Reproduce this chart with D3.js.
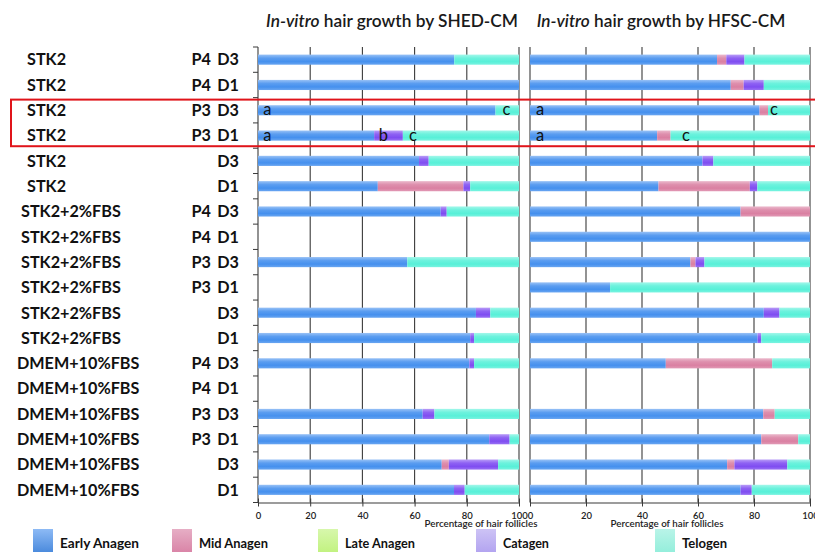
<!DOCTYPE html>
<html>
<head>
<meta charset="utf-8">
<script src="https://cdn.jsdelivr.net/npm/d3@7"></script>
<style>
  html, body { margin: 0; padding: 0; background: #fff; }
  svg { display: block; font-family: Lato, "Open Sans", sans-serif; }
</style>
</head>
<body>
<svg id="chart" width="815" height="552"></svg>
<script>
// ---------------- DATA ----------------
const rowGroups   = ["STK2","STK2","STK2","STK2","STK2","STK2",
                     "STK2+2%FBS","STK2+2%FBS","STK2+2%FBS","STK2+2%FBS","STK2+2%FBS","STK2+2%FBS",
                     "DMEM+10%FBS","DMEM+10%FBS","DMEM+10%FBS","DMEM+10%FBS","DMEM+10%FBS","DMEM+10%FBS"];
const rowPassages = ["P4","P4","P3","P3","","","P4","P4","P3","P3","","","P4","P4","P3","P3","",""];
const rowDays     = ["D3","D1","D3","D1","D3","D1","D3","D1","D3","D1","D3","D1","D3","D1","D3","D1","D3","D1"];

const phases = ["Early Anagen","Mid Anagen","Late Anagen","Catagen","Telogen"];

const panelTitles = ["hair growth by SHED-CM","hair growth by HFSC-CM"];
const titleItalic = "In-vitro";
const xTickValues = [0,20,40,60,80,100];
const xAxisTitle = "Percentage of hair follicles";

// SHED-CM (left panel), percentages per row
const shedEarly   = [75.2,100,91.0,44.5,61.7,45.9,70.0,0,57.2,0,83.5,81.3,81.0,0,63.1,88.6,70.4,75.1];
const shedMid     = [0,0,0,0,0,32.8,0,0,0,0,0,0,0,0,0,0,2.7,0];
const shedLate    = [0,0,0,0,0,0,0,0,0,0,0,0,0,0,0,0,0,0];
const shedCatagen = [0,0,0,11.0,3.7,2.6,2.3,0,0,0,5.5,1.5,1.8,0,4.5,7.8,18.9,4.1];
const shedTelogen = [24.8,0,9.0,44.5,34.6,18.7,27.7,0,42.8,0,11.0,17.2,17.2,0,32.4,3.6,8.0,20.8];

// HFSC-CM (right panel)
const hfscEarly   = [66.8,71.7,82.0,45.4,61.6,45.9,75.2,100,57.3,28.6,83.5,81.3,48.5,0,83.3,82.6,70.4,75.2];
const hfscMid     = [3.3,4.6,3.0,4.8,0,32.6,24.8,0,1.8,0,0,0,38.0,0,4.1,13.2,2.6,0];
const hfscLate    = [0,0,0,0,0,0,0,0,0,0,0,0,0,0,0,0,0,0];
const hfscCatagen = [6.5,7.2,0,0,3.9,2.7,0,0,3.2,0,5.6,1.3,0,0,0,0,18.9,4.0];
const hfscTelogen = [23.4,16.5,15.0,49.8,34.5,18.8,0,0,37.7,71.4,10.9,17.4,13.5,0,12.6,4.2,8.1,20.8];

// significance letters: panel index, row index, position (%), letter
const annotPanel = [0,0,0,0,0,1,1,1,1];
const annotRow   = [2,2,3,3,3,2,2,3,3];
const annotPos   = [3.6,95.2,3.6,48.0,59.4,3.6,87.1,3.6,55.7];
const annotText  = ["a","c","a","b","c","a","c","a","c"];

// highlighted rows (red box)
const highlightRows = [2,3];

// ---------------- STYLE ----------------
const barColors    = ["#4590ee","#da80a2","#b6ee74","#7f4df1","#58f0d8"];
const legendColors = ["#4f95ef","#d983a6","#c1f27f","#b2a3f0","#93eedb"];

const plotTop = 47, plotBottom = 502.5;
const panels = [
  {x0: 258, x1: 519, title: panelTitles[0], titleCx: 392, titleW: 252, axTitleCx: 481,
   data: [shedEarly, shedMid, shedLate, shedCatagen, shedTelogen], ticksLeft: true},
  {x0: 530, x1: 810, title: panelTitles[1], titleCx: 661, titleW: 249, axTitleCx: 667,
   data: [hfscEarly, hfscMid, hfscLate, hfscCatagen, hfscTelogen], ticksLeft: false}
];

const svg = d3.select("#chart");
const defs = svg.append("defs");

// bar gradients
barColors.forEach((c, i) => {
  const g = defs.append("linearGradient").attr("id", "bg" + i)
    .attr("x1", 0).attr("y1", 0).attr("x2", 0).attr("y2", 1);
  g.append("stop").attr("offset", "0%").attr("stop-color", d3.interpolateRgb(c, "#fff")(0.45));
  g.append("stop").attr("offset", "35%").attr("stop-color", d3.interpolateRgb(c, "#fff")(0.12));
  g.append("stop").attr("offset", "70%").attr("stop-color", c);
  g.append("stop").attr("offset", "100%").attr("stop-color", d3.interpolateRgb(c, "#fff")(0.2));
});
legendColors.forEach((c, i) => {
  const g = defs.append("linearGradient").attr("id", "lg" + i)
    .attr("x1", 0).attr("y1", 0).attr("x2", 0).attr("y2", 1);
  g.append("stop").attr("offset", "0%").attr("stop-color", d3.interpolateRgb(c, "#fff")(0.35));
  g.append("stop").attr("offset", "100%").attr("stop-color", i === 0 ? d3.interpolateRgb(c, "#000")(0.08) : c);
});

const y = d3.scaleBand().domain(d3.range(rowDays.length))
  .range([plotTop, plotBottom]).paddingInner(0.6).paddingOuter(0.3);
const step = y.step();
const bandTop = i => plotTop + i * step; // band boundaries for axis ticks

function fitText(sel, target) {
  const n = sel.node();
  const fs = parseFloat(sel.attr("font-size"));
  const w = n.getComputedTextLength();
  if (w > 0) sel.attr("font-size", (fs * target / w).toFixed(2));
}

panels.forEach((p, pi) => {
  const x = d3.scaleLinear().domain([0, 100]).range([p.x0, p.x1]);
  const g = svg.append("g");

  // gridlines
  g.selectAll(".grid").data(xTickValues.filter(v => v > 0)).join("line")
    .attr("x1", d => x(d)).attr("x2", d => x(d))
    .attr("y1", plotTop).attr("y2", plotBottom)
    .attr("stroke", "#3a3a3a").attr("stroke-width", 1.1);

  // left axis line
  g.append("line").attr("x1", x(0)).attr("x2", x(0))
    .attr("y1", plotTop).attr("y2", plotBottom)
    .attr("stroke", "#3a3a3a").attr("stroke-width", 1.1);
  if (p.ticksLeft) {
    g.selectAll(".lt").data(d3.range(rowDays.length + 1)).join("line")
      .attr("x1", x(0) - 5).attr("x2", x(0))
      .attr("y1", d => bandTop(d)).attr("y2", d => bandTop(d))
      .attr("stroke", "#3a3a3a").attr("stroke-width", 1);
  }

  // stacked bars
  const stackData = rowDays.map((_, r) => {
    const o = {row: r};
    phases.forEach((ph, k) => o[ph] = p.data[k][r]);
    return o;
  });
  const series = d3.stack().keys(phases)(stackData);
  series.forEach((s, k) => {
    g.append("g").selectAll("rect").data(s.filter(d => d[1] - d[0] > 0)).join("rect")
      .attr("x", d => x(d[0]))
      .attr("width", d => x(d[1]) - x(d[0]))
      .attr("y", d => y(d.data.row))
      .attr("height", y.bandwidth())
      .attr("fill", "url(#bg" + k + ")");
  });

  // bottom axis
  const ax = g.append("g").attr("transform", `translate(0,${plotBottom})`)
    .call(d3.axisBottom(x).tickValues(xTickValues).tickSize(4).tickSizeOuter(0));
  ax.select(".domain").attr("stroke", "#3a3a3a").attr("stroke-width", 1.1);
  ax.selectAll(".tick line").attr("y1", -4).attr("stroke", "#3a3a3a");
  ax.selectAll(".tick text").attr("y", 10).attr("font-size", 9.5).attr("font-weight", 600)
    .attr("font-family", "Lato, sans-serif").attr("fill", "#222");

  // axis title
  const at = svg.append("text").attr("x", p.axTitleCx).attr("y", 527)
    .attr("text-anchor", "middle").attr("font-size", 10).attr("fill", "#222")
    .attr("font-weight", 600).text(xAxisTitle);
  fitText(at, 113);

  // panel title
  const tt = svg.append("text").attr("x", p.titleCx).attr("y", 27)
    .attr("text-anchor", "middle").attr("font-size", 16).attr("fill", "#1a1a1a")
    .attr("font-weight", 600);
  tt.append("tspan").attr("font-style", "italic").text(titleItalic);
  tt.append("tspan").text(" " + p.title);
  fitText(tt, p.titleW);

  // annotations
  annotText.forEach((t, i) => {
    if (annotPanel[i] !== pi) return;
    svg.append("text").attr("x", x(annotPos[i])).attr("y", y(annotRow[i]) + y.bandwidth() / 2 + 5)
      .attr("text-anchor", "middle").attr("font-size", 16.5).attr("fill", "#111")
      .attr("font-family", "Lato, sans-serif").text(t);
  });
});

// row labels
const groupX = {"STK2": 27, "STK2+2%FBS": 21, "DMEM+10%FBS": 17};
const lab = svg.append("g").attr("font-weight", 700).attr("font-size", 16.2).attr("fill", "#111");
rowDays.forEach((d, r) => {
  const cy = y(r) + y.bandwidth() / 2 + 5.8;
  lab.append("text").attr("x", groupX[rowGroups[r]]).attr("y", cy).text(rowGroups[r]);
  if (rowPassages[r]) lab.append("text").attr("x", 211).attr("y", cy).attr("text-anchor", "end").text(rowPassages[r]);
  lab.append("text").attr("x", 239).attr("y", cy).attr("text-anchor", "end").text(d);
});

// red highlight box
const hTop = bandTop(d3.min(highlightRows)) + 2;
const hBot = bandTop(d3.max(highlightRows) + 1) - 2;
svg.append("rect").attr("x", 11).attr("y", hTop).attr("width", 830).attr("height", hBot - hTop)
  .attr("fill", "none").attr("stroke", "#e0141a").attr("stroke-width", 2);

// legend
const legX = [33, 172, 318, 476, 655];
const legW = [79, 69, 70, 46, 45];
const lg = svg.append("g");
phases.forEach((ph, i) => {
  lg.append("rect").attr("x", legX[i]).attr("y", 529).attr("width", 20).attr("height", 24)
    .attr("fill", "url(#lg" + i + ")");
  const t = lg.append("text").attr("x", legX[i] + 27).attr("y", 548)
    .attr("font-size", 13).attr("font-weight", 700).attr("fill", "#111").text(ph);
  fitText(t, legW[i]);
});
</script>
</body>
</html>
